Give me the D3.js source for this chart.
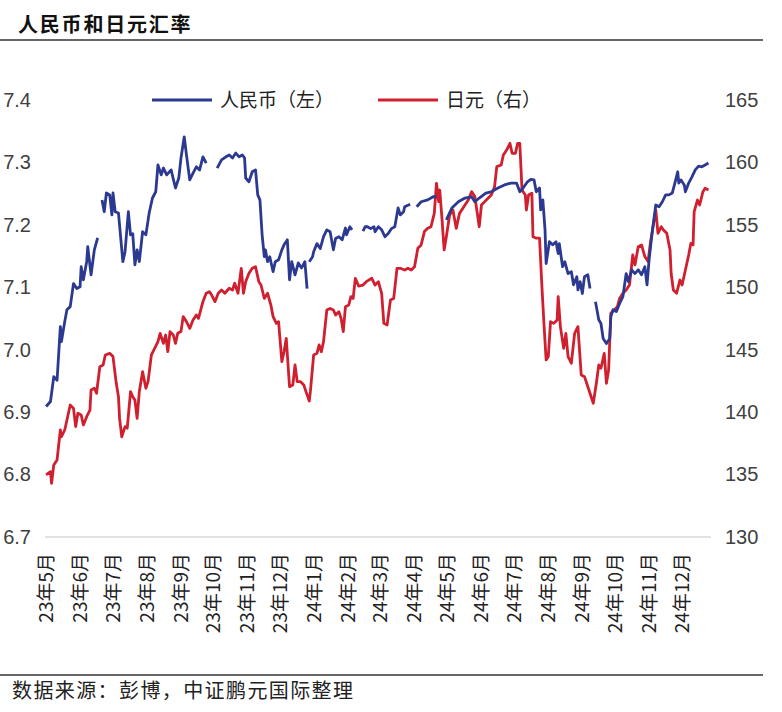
<!DOCTYPE html>
<html>
<head>
<meta charset="utf-8">
<script src="https://cdn.jsdelivr.net/npm/d3@7"></script>
<style>
body{margin:0;background:#fff;}
text{font-family:"Noto Sans CJK SC","Noto Sans",sans-serif;}
.num{font-family:"Liberation Sans",Arial,sans-serif;}
</style>
</head>
<body>
<svg id="svg"></svg>
<script>
var W = 782, H = 712;

var monthLabels = ["23年5月","23年6月","23年7月","23年8月","23年9月","23年10月","23年11月","23年12月",
  "24年1月","24年2月","24年3月","24年4月","24年5月","24年6月","24年7月","24年8月","24年9月","24年10月","24年11月","24年12月"];
var leftTicks = [6.7,6.8,6.9,7.0,7.1,7.2,7.3,7.4];
var rightTicks = [130,135,140,145,150,155,160,165];

// 人民币 (USD/CNY), null = 缺数
var cny = [["2023-05-02",6.909],["2023-05-06",6.917],["2023-05-09",6.957],["2023-05-12",6.951],["2023-05-15",7.037],["2023-05-16",7.013],["2023-05-19",7.045],["2023-05-21",7.064],["2023-05-24",7.069],["2023-05-27",7.106],["2023-05-30",7.098],["2023-06-02",7.101],["2023-06-03",7.133],["2023-06-05",7.112],["2023-06-08",7.141],["2023-06-09",7.165],["2023-06-12",7.120],["2023-06-15",7.160],["2023-06-18",7.179],["2023-06-20",null],
  ["2023-06-22",7.240],["2023-06-24",7.221],["2023-06-26",7.251],["2023-06-29",7.248],["2023-07-01",7.216],["2023-07-02",7.251],["2023-07-04",7.221],["2023-07-07",7.219],["2023-07-11",7.141],["2023-07-13",7.157],["2023-07-16",7.221],["2023-07-18",7.184],["2023-07-20",7.186],["2023-07-22",7.136],["2023-07-24",7.160],["2023-07-26",7.141],["2023-07-29",7.189],["2023-08-01",7.184],["2023-08-04",7.219],["2023-08-07",7.243],["2023-08-10",7.253],["2023-08-12",7.296],["2023-08-15",7.280],["2023-08-17",7.291],["2023-08-20",7.280],["2023-08-24",7.288],["2023-08-28",7.259],["2023-08-31",7.275],["2023-09-02",7.307],["2023-09-05",7.341],["2023-09-07",7.312],["2023-09-10",7.272],["2023-09-13",7.283],["2023-09-16",7.293],["2023-09-19",7.288],["2023-09-22",7.309],["2023-09-25",7.299],["2023-10-01",null],
  ["2023-10-05",7.291],["2023-10-09",7.304],["2023-10-13",7.309],["2023-10-16",7.312],["2023-10-19",7.307],["2023-10-22",7.315],["2023-10-25",7.309],["2023-10-28",7.312],["2023-10-30",7.307],["2023-10-31",7.275],["2023-11-03",7.269],["2023-11-06",7.285],["2023-11-09",7.288],["2023-11-11",7.248],["2023-11-13",7.240],["2023-11-15",7.184],["2023-11-17",7.149],["2023-11-18",7.160],["2023-11-20",7.141],["2023-11-22",7.149],["2023-11-25",7.125],["2023-11-27",7.141],["2023-11-30",7.144],["2023-12-03",7.160],["2023-12-05",7.168],["2023-12-08",7.176],["2023-12-10",7.112],["2023-12-12",7.141],["2023-12-15",7.120],["2023-12-18",7.139],["2023-12-21",7.131],["2023-12-24",7.141],["2023-12-26",7.098],["2023-12-27",null],
  ["2023-12-28",7.141],["2023-12-31",7.149],["2024-01-01",7.157],["2024-01-04",7.170],["2024-01-07",7.162],["2024-01-10",7.181],["2024-01-13",7.192],["2024-01-16",7.189],["2024-01-19",7.160],["2024-01-21",7.178],["2024-01-24",7.181],["2024-01-27",7.176],["2024-01-30",7.195],["2024-01-31",7.184],["2024-02-03",7.197],["2024-02-05",7.192],["2024-02-10",null],
  ["2024-02-15",7.190],["2024-02-17",7.197],["2024-02-19",7.197],["2024-02-22",7.194],["2024-02-25",7.197],["2024-02-26",7.189],["2024-02-29",7.197],["2024-03-03",7.192],["2024-03-06",7.181],["2024-03-09",7.186],["2024-03-12",7.194],["2024-03-15",7.197],["2024-03-18",7.227],["2024-03-20",7.216],["2024-03-23",7.221],["2024-03-24",7.229],["2024-03-29",7.233],["2024-04-01",null],
  ["2024-04-04",7.229],["2024-04-08",7.237],["2024-04-14",7.240],["2024-04-19",7.245],["2024-04-22",7.245],["2024-04-26",null],
  ["2024-05-01",7.208],["2024-05-06",7.227],["2024-05-12",7.237],["2024-05-18",7.243],["2024-05-24",7.245],["2024-05-27",7.237],["2024-05-31",7.243],["2024-06-06",7.251],["2024-06-11",7.253],["2024-06-17",7.259],["2024-06-23",7.264],["2024-06-29",7.267],["2024-07-04",7.267],["2024-07-07",7.253],["2024-07-10",7.259],["2024-07-14",7.269],["2024-07-17",7.273],["2024-07-20",7.272],["2024-07-22",7.253],["2024-07-25",7.259],["2024-07-26",7.224],["2024-07-28",7.240],["2024-07-30",7.192],["2024-07-31",7.138],["2024-08-03",7.173],["2024-08-06",7.168],["2024-08-09",7.173],["2024-08-11",7.154],["2024-08-12",7.170],["2024-08-15",7.133],["2024-08-17",7.141],["2024-08-20",7.122],["2024-08-23",7.125],["2024-08-25",7.104],["2024-08-28",7.117],["2024-08-29",7.096],["2024-08-31",7.109],["2024-09-02",7.090],["2024-09-04",7.117],["2024-09-07",7.120],["2024-09-09",7.098],["2024-09-11",null],
  ["2024-09-14",7.077],["2024-09-17",7.048],["2024-09-19",7.042],["2024-09-21",7.018],["2024-09-24",7.010],["2024-09-27",7.018],["2024-09-28",7.053],["2024-09-30",7.064],["2024-10-03",7.061],["2024-10-06",7.074],["2024-10-09",7.085],["2024-10-12",7.122],["2024-10-14",7.109],["2024-10-17",7.128],["2024-10-20",7.122],["2024-10-23",7.128],["2024-10-26",7.120],["2024-10-29",7.133],["2024-10-31",7.104],["2024-11-02",7.146],["2024-11-05",7.192],["2024-11-08",7.232],["2024-11-11",7.229],["2024-11-14",7.237],["2024-11-17",7.248],["2024-11-20",7.248],["2024-11-23",7.251],["2024-11-25",7.264],["2024-11-28",7.285],["2024-11-29",7.267],["2024-12-01",7.272],["2024-12-04",7.264],["2024-12-05",7.253],["2024-12-08",7.267],["2024-12-11",7.277],["2024-12-14",7.288],["2024-12-17",7.294],["2024-12-20",7.293],["2024-12-23",7.296],["2024-12-26",7.299]];

// 日元 (USD/JPY)
var jpy = [["2023-05-02",134.97],["2023-05-06",135.23],["2023-05-07",134.30],["2023-05-09",135.77],["2023-05-12",136.17],["2023-05-15",138.57],["2023-05-16",138.03],["2023-05-19",138.57],["2023-05-24",140.57],["2023-05-27",140.30],["2023-05-29",138.84],["2023-05-31",139.91],["2023-06-03",139.77],["2023-06-05",138.97],["2023-06-08",139.64],["2023-06-11",140.17],["2023-06-12",141.77],["2023-06-15",141.91],["2023-06-17",141.51],["2023-06-20",143.64],["2023-06-23",143.78],["2023-06-25",144.58],["2023-06-29",144.71],["2023-07-02",144.45],["2023-07-05",142.31],["2023-07-07",141.24],["2023-07-08",139.50],["2023-07-10",138.03],["2023-07-13",138.84],["2023-07-15",138.71],["2023-07-18",141.64],["2023-07-20",141.24],["2023-07-22",140.97],["2023-07-24",139.50],["2023-07-26",141.64],["2023-07-29",143.24],["2023-08-01",141.91],["2023-08-03",142.44],["2023-08-06",144.58],["2023-08-09",145.11],["2023-08-12",145.65],["2023-08-14",146.31],["2023-08-17",145.51],["2023-08-19",146.18],["2023-08-21",144.84],["2023-08-23",146.45],["2023-08-26",146.18],["2023-08-28",145.51],["2023-08-30",146.31],["2023-09-02",146.45],["2023-09-04",147.65],["2023-09-07",147.25],["2023-09-10",146.71],["2023-09-13",147.38],["2023-09-16",147.78],["2023-09-18",147.51],["2023-09-22",148.85],["2023-09-25",149.52],["2023-09-28",149.65],["2023-09-30",149.38],
  ["2023-10-03",148.85],["2023-10-06",149.52],["2023-10-09",149.78],["2023-10-12",149.52],["2023-10-16",149.92],["2023-10-19",149.78],["2023-10-21",150.32],["2023-10-24",149.52],["2023-10-27",151.52],["2023-10-29",149.52],["2023-10-31",150.45],["2023-11-03",151.12],["2023-11-06",151.52],["2023-11-09",151.65],["2023-11-12",150.45],["2023-11-14",150.18],["2023-11-17",149.11],["2023-11-20",149.52],["2023-11-23",148.58],["2023-11-25",147.65],["2023-11-28",147.11],["2023-11-30",147.25],["2023-12-03",144.05],["2023-12-05",144.84],["2023-12-07",145.91],["2023-12-10",142.04],["2023-12-13",142.17],["2023-12-15",143.78],["2023-12-17",142.44],["2023-12-20",142.44],["2023-12-23",142.17],["2023-12-25",141.64],["2023-12-28",140.89],["2023-12-29",141.64],
  ["2024-01-01",144.58],["2024-01-04",144.71],["2024-01-06",145.38],["2024-01-08",144.84],["2024-01-10",145.65],["2024-01-13",148.18],["2024-01-16",148.31],["2024-01-19",148.18],["2024-01-21",147.78],["2024-01-24",148.05],["2024-01-26",147.51],["2024-01-28",146.45],["2024-01-30",148.45],["2024-02-02",148.58],["2024-02-04",149.25],["2024-02-06",149.11],["2024-02-08",150.72],["2024-02-11",150.10],["2024-02-15",150.18],["2024-02-18",150.45],["2024-02-23",150.72],["2024-02-26",150.18],["2024-02-29",150.45],["2024-03-03",149.52],["2024-03-05",147.11],["2024-03-08",146.98],["2024-03-11",148.98],["2024-03-14",149.11],["2024-03-17",151.52],["2024-03-20",151.52],["2024-03-24",151.38],["2024-03-27",151.52],["2024-03-30",151.38],["2024-04-02",151.65],["2024-04-05",153.12],["2024-04-08",153.39],["2024-04-11",154.46],["2024-04-14",154.72],["2024-04-17",154.85],["2024-04-20",155.92],["2024-04-22",158.33],["2024-04-24",156.86],["2024-04-25",157.79],["2024-04-27",155.52],["2024-04-29",152.99],
  ["2024-05-01",154.05],["2024-05-04",155.79],["2024-05-07",156.19],["2024-05-10",154.72],["2024-05-13",155.92],["2024-05-18",156.59],["2024-05-21",156.99],["2024-05-24",157.66],["2024-05-27",157.26],["2024-05-31",154.85],["2024-06-02",156.59],["2024-06-05",156.86],["2024-06-08",157.13],["2024-06-11",157.39],["2024-06-14",158.06],["2024-06-16",159.66],["2024-06-20",159.79],["2024-06-22",160.59],["2024-06-25",160.99],["2024-06-28",161.53],["2024-06-30",160.73],["2024-07-03",160.73],["2024-07-05",161.53],["2024-07-07",161.53],["2024-07-09",157.79],["2024-07-12",157.39],["2024-07-13",156.19],["2024-07-15",157.39],["2024-07-18",157.53],["2024-07-19",154.05],["2024-07-22",153.93],["2024-07-25",153.93],["2024-07-27",150.32],["2024-07-29",147.11],["2024-07-31",144.18],
  ["2024-08-02",144.45],["2024-08-04",147.25],["2024-08-07",147.11],["2024-08-10",147.38],["2024-08-11",149.25],["2024-08-13",146.85],["2024-08-16",145.11],["2024-08-18",146.31],["2024-08-20",144.45],["2024-08-23",143.92],["2024-08-26",146.31],["2024-08-29",146.85],["2024-09-01",142.98],["2024-09-04",142.84],["2024-09-06",142.31],["2024-09-09",141.51],["2024-09-12",140.71],["2024-09-15",142.44],["2024-09-17",143.78],["2024-09-19",143.52],["2024-09-22",144.71],["2024-09-24",142.31],["2024-09-26",143.38],["2024-09-28",147.92],
  ["2024-10-01",148.18],["2024-10-04",148.45],["2024-10-06",149.11],["2024-10-09",149.52],["2024-10-12",149.78],["2024-10-15",150.18],["2024-10-18",152.59],["2024-10-20",151.79],["2024-10-23",153.25],["2024-10-26",153.39],["2024-10-29",152.46],["2024-11-01",152.06],["2024-11-03",153.52],["2024-11-05",154.59],["2024-11-08",156.19],["2024-11-10",154.32],["2024-11-13",154.85],["2024-11-15",154.59],["2024-11-18",154.32],["2024-11-21",152.99],["2024-11-22",151.12],["2024-11-24",149.78],["2024-11-27",149.52],["2024-11-30",150.58],["2024-12-02",150.18],["2024-12-05",151.38],["2024-12-08",152.59],["2024-12-10",153.52],["2024-12-12",153.39],["2024-12-13",156.06],["2024-12-16",156.99],["2024-12-18",156.59],["2024-12-21",157.66],["2024-12-23",157.93],["2024-12-26",157.79]];

var blue = "#2b3990", red = "#d01f2e";
var parse = d3.timeParse("%Y-%m-%d");

var svg = d3.select("#svg")
    .attr("width", W)
    .attr("height", H);

var x_scale = d3.scaleTime()
    .domain([parse("2023-05-01"), parse("2025-01-01")])
    .range([45, 715]);
var yLeft = d3.scaleLinear().domain([6.7, 7.4]).range([537, 100]);
var yRight = d3.scaleLinear().domain([130, 165]).range([537, 100]);

// title + rules
svg.append("text")
    .attr("x", 18).attr("y", 32)
    .attr("font-size", 20).attr("font-weight", "bold")
    .attr("letter-spacing", 1.8).attr("fill", "#111")
    .text("人民币和日元汇率");
svg.append("line").attr("x1", 0).attr("x2", 763).attr("y1", 40).attr("y2", 40)
    .attr("stroke", "#333").attr("stroke-width", 1.5);
svg.append("line").attr("x1", 0).attr("x2", 763).attr("y1", 675).attr("y2", 675)
    .attr("stroke", "#333").attr("stroke-width", 1.5);
svg.append("text")
    .attr("x", 12).attr("y", 698)
    .attr("font-size", 20).attr("letter-spacing", 1.4).attr("fill", "#222")
    .text("数据来源：彭博，中证鹏元国际整理");

// baseline
svg.append("line").attr("x1", 45).attr("x2", 711).attr("y1", yLeft(6.7)).attr("y2", yLeft(6.7))
    .attr("stroke", "#d9d9d9").attr("stroke-width", 1.5);

// axes
var gL = svg.append("g").attr("transform", "translate(34,0)")
    .call(d3.axisLeft(yLeft).tickValues(leftTicks).tickSize(0).tickPadding(3).tickFormat(d3.format(".1f")));
var gR = svg.append("g").attr("transform", "translate(722,0)")
    .call(d3.axisRight(yRight).tickValues(rightTicks).tickSize(0).tickPadding(3));
[gL, gR].forEach(function(g){
  g.select(".domain").remove();
  g.selectAll("text").attr("class", "num").attr("font-size", 20).attr("fill", "#404040");
});

var months = monthLabels.map(function(m, i){ return d3.timeMonth.offset(parse("2023-05-01"), i); });
svg.append("g").selectAll("text")
    .data(monthLabels)
    .enter().append("text")
    .attr("transform", function(d, i){ return "translate(" + (x_scale(months[i]) + 1) + ",553) rotate(-90)"; })
    .attr("text-anchor", "end")
    .attr("dy", "0.35em")
    .attr("font-size", 19)
    .attr("fill", "#222")
    .text(function(d){ return d; });

// lines
var lineL = d3.line()
    .defined(function(d){ return d[1] != null; })
    .x(function(d){ return x_scale(parse(d[0])); })
    .y(function(d){ return yLeft(d[1]); });
var lineR = d3.line()
    .x(function(d){ return x_scale(parse(d[0])); })
    .y(function(d){ return yRight(d[1]); });

svg.append("path").attr("d", lineR(jpy))
    .attr("fill", "none").attr("stroke", red).attr("stroke-width", 2.8).attr("stroke-linejoin", "round");
svg.append("path").attr("d", lineL(cny))
    .attr("fill", "none").attr("stroke", blue).attr("stroke-width", 2.8).attr("stroke-linejoin", "round");

// legend
var legend = [["人民币（左）", blue, 152], ["日元（右）", red, 378]];
var lg = svg.append("g").selectAll("g").data(legend).enter().append("g")
    .attr("transform", function(d){ return "translate(" + d[2] + ",100)"; });
lg.append("line").attr("x1", 0).attr("x2", 60).attr("stroke", function(d){ return d[1]; }).attr("stroke-width", 3);
lg.append("text").attr("x", 68).attr("dy", "0.35em").attr("font-size", 19).attr("fill", "#222")
    .text(function(d){ return d[0]; });
</script>
</body>
</html>
